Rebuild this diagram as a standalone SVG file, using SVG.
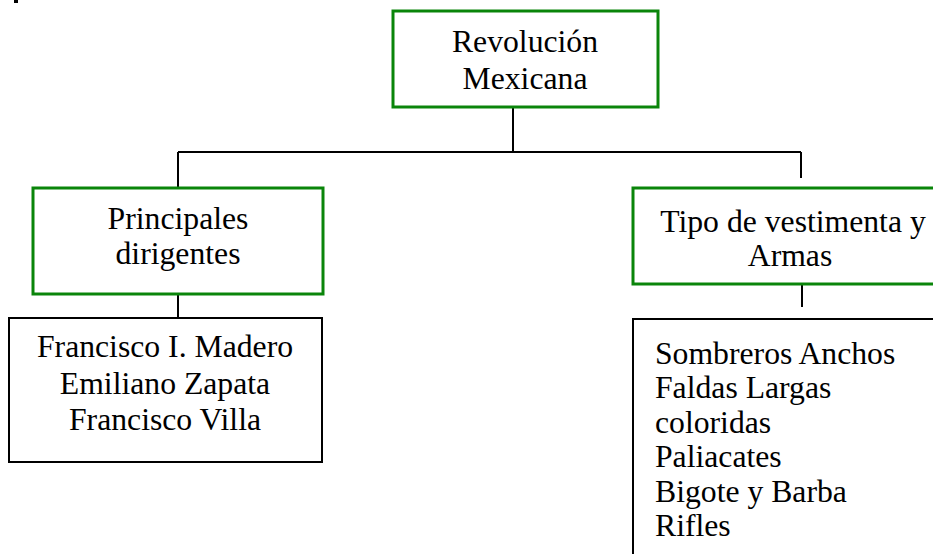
<svg xmlns="http://www.w3.org/2000/svg" width="933" height="554" viewBox="0 0 933 554">
<style>
.g{fill:#fff;stroke:#0a850a;stroke-width:3}
.b{fill:#fff;stroke:#000;stroke-width:2}
.c{fill:none;stroke:#000;stroke-width:2}
text{font-family:"Liberation Serif","Times New Roman",serif;font-size:31.7px;fill:#000}
.m{text-anchor:middle}
</style>
<rect x="14" y="0" width="4" height="3" fill="#000"/>
<g id="connectors">
<path class="c" d="M513,107 V152 M178,152 H801 M178,152 V202 M801,152 V178 M178,294 V318 M802,285 V307"/>
</g>
<g id="n-top">
<rect class="g" x="393" y="11" width="265" height="96"/>
<text class="m" x="525" y="52">Revolución</text>
<text class="m" x="525" y="89">Mexicana</text>
</g>
<g id="n-principales">
<rect class="g" x="33" y="188" width="290" height="106"/>
<text class="m" x="178" y="229">Principales</text>
<text class="m" x="178" y="264">dirigentes</text>
</g>
<g id="n-tipo">
<rect class="g" x="633" y="188" width="310" height="96"/>
<text class="m" x="793" y="232">Tipo de vestimenta y</text>
<text class="m" x="790" y="266">Armas</text>
</g>
<g id="n-dirigentes">
<rect class="b" x="9" y="318" width="313" height="144"/>
<text class="m" x="165" y="357">Francisco I. Madero</text>
<text class="m" x="165" y="394">Emiliano Zapata</text>
<text class="m" x="165" y="430">Francisco Villa</text>
</g>
<g id="n-vestimenta">
<rect class="b" x="633" y="319" width="320" height="250"/>
<text x="655" y="364">Sombreros Anchos</text>
<text x="655" y="398">Faldas Largas</text>
<text x="655" y="433">coloridas</text>
<text x="655" y="467">Paliacates</text>
<text x="655" y="502">Bigote y Barba</text>
<text x="655" y="536">Rifles</text>
</g>
</svg>
